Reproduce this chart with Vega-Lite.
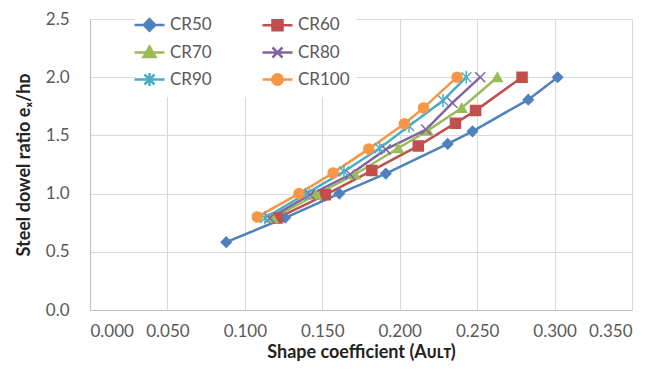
{
  "$schema": "https://vega.github.io/schema/vega-lite/v6.json",
  "width": 542,
  "height": 291,
  "autosize": {"type": "none"},
  "padding": {"left": 90, "top": 19, "right": 24, "bottom": 67},
  "background": "white",
  "config": {
    "font": "Lato",
    "view": {"stroke": null},
    "axis": {
      "gridColor": "#D9D9D9",
      "gridWidth": 1,
      "domainColor": "#BFBFBF",
      "domainWidth": 1,
      "ticks": false,
      "labelFont": "Lato",
      "labelFontSize": 17,
      "labelColor": "#595959",
      "titleFont": "Lato",
      "titleFontSize": 18,
      "titleFontWeight": "bold",
      "titleColor": "#222222"
    }
  },
  "data": {
    "values": [
      {"series": "CR50", "coef": 0.088, "ratio": 0.583},
      {"series": "CR50", "coef": 0.126, "ratio": 0.792},
      {"series": "CR50", "coef": 0.161, "ratio": 1.0},
      {"series": "CR50", "coef": 0.191, "ratio": 1.172},
      {"series": "CR50", "coef": 0.231, "ratio": 1.427},
      {"series": "CR50", "coef": 0.247, "ratio": 1.535},
      {"series": "CR50", "coef": 0.283, "ratio": 1.807},
      {"series": "CR50", "coef": 0.302, "ratio": 2.0},
      {"series": "CR60", "coef": 0.121, "ratio": 0.79},
      {"series": "CR60", "coef": 0.152, "ratio": 0.99},
      {"series": "CR60", "coef": 0.182, "ratio": 1.198},
      {"series": "CR60", "coef": 0.212, "ratio": 1.41},
      {"series": "CR60", "coef": 0.236, "ratio": 1.605},
      {"series": "CR60", "coef": 0.249, "ratio": 1.713},
      {"series": "CR60", "coef": 0.279, "ratio": 2.0},
      {"series": "CR70", "coef": 0.118, "ratio": 0.79},
      {"series": "CR70", "coef": 0.146, "ratio": 0.99},
      {"series": "CR70", "coef": 0.171, "ratio": 1.164},
      {"series": "CR70", "coef": 0.199, "ratio": 1.39},
      {"series": "CR70", "coef": 0.218, "ratio": 1.541},
      {"series": "CR70", "coef": 0.24, "ratio": 1.736},
      {"series": "CR70", "coef": 0.263, "ratio": 2.0},
      {"series": "CR80", "coef": 0.116, "ratio": 0.79},
      {"series": "CR80", "coef": 0.142, "ratio": 0.99},
      {"series": "CR80", "coef": 0.168, "ratio": 1.164},
      {"series": "CR80", "coef": 0.191, "ratio": 1.38},
      {"series": "CR80", "coef": 0.217, "ratio": 1.55},
      {"series": "CR80", "coef": 0.234, "ratio": 1.78},
      {"series": "CR80", "coef": 0.252, "ratio": 2.0},
      {"series": "CR90", "coef": 0.113, "ratio": 0.79},
      {"series": "CR90", "coef": 0.139, "ratio": 0.995},
      {"series": "CR90", "coef": 0.164, "ratio": 1.19},
      {"series": "CR90", "coef": 0.187, "ratio": 1.39},
      {"series": "CR90", "coef": 0.206, "ratio": 1.58},
      {"series": "CR90", "coef": 0.228, "ratio": 1.8},
      {"series": "CR90", "coef": 0.243, "ratio": 2.0},
      {"series": "CR100", "coef": 0.108, "ratio": 0.8},
      {"series": "CR100", "coef": 0.135, "ratio": 1.0},
      {"series": "CR100", "coef": 0.157, "ratio": 1.178},
      {"series": "CR100", "coef": 0.18, "ratio": 1.384},
      {"series": "CR100", "coef": 0.203, "ratio": 1.6},
      {"series": "CR100", "coef": 0.2154, "ratio": 1.736},
      {"series": "CR100", "coef": 0.237, "ratio": 2.0}
    ]
  },
  "encoding": {
    "x": {
      "field": "coef",
      "type": "quantitative",
      "scale": {"domain": [0, 0.35], "nice": false, "zero": true},
      "axis": {
        "values": [0, 0.05, 0.1, 0.15, 0.2, 0.25, 0.3, 0.35],
        "format": ".3f",
        "labelPadding": 13,
        "titlePadding": 4,
        "title": "Shape coefficient (Aᴜʟᴛ)"
      }
    },
    "y": {
      "field": "ratio",
      "type": "quantitative",
      "scale": {"domain": [0, 2.5], "nice": false},
      "axis": {
        "values": [0, 0.5, 1, 1.5, 2, 2.5],
        "format": ".1f",
        "labelPadding": 21,
        "titlePadding": 12,
        "title": "Steel dowel ratio eₓ/hᴅ"
      }
    }
  },
  "layer": [
    {
      "mark": {"type": "line", "strokeWidth": 2.5},
      "encoding": {
        "color": {
          "field": "series",
          "type": "nominal",
          "scale": {
            "domain": ["CR50", "CR60", "CR70", "CR80", "CR90", "CR100"],
            "range": ["#4F81BD", "#C0504D", "#9BBB59", "#8064A2", "#4BACC6", "#F79646"]
          }
        }
      }
    },
    {
      "mark": {"type": "point", "filled": true, "opacity": 1, "size": 100, "strokeWidth": 1.5},
      "encoding": {
        "color": {"field": "series", "type": "nominal"},
        "stroke": {
          "field": "series",
          "type": "nominal",
          "scale": {
            "domain": ["CR50", "CR60", "CR70", "CR80", "CR90", "CR100"],
            "range": ["#4F81BD", "#C0504D", "#9BBB59", "#8064A2", "#4BACC6", "#F79646"]
          }
        },
        "shape": {
          "condition": [
            {"test": "datum.series === 'CR50'", "value": "diamond"},
            {"test": "datum.series === 'CR60'", "value": "square"},
            {"test": "datum.series === 'CR70'", "value": "triangle-up"},
            {"test": "datum.series === 'CR80'", "value": "M-1,-1L1,1M1,-1L-1,1"},
            {"test": "datum.series === 'CR90'", "value": "M-1,-1L1,1M1,-1L-1,1M0,-1.3V1.3"}
          ],
          "value": "circle"
        }
      }
    },
    {
      "transform": [{"filter": "false"}],
      "mark": {"type": "point", "filled": true, "opacity": 1, "size": 100},
      "encoding": {
        "color": {
          "field": "series",
          "type": "nominal",
          "legend": {
            "title": null,
            "orient": "none",
            "legendX": 45,
            "legendY": -9,
            "direction": "horizontal",
            "columns": 2,
            "columnPadding": 45,
            "rowPadding": 5,
            "padding": 6,
            "fillColor": "white",
            "symbolSize": 100,
            "symbolStrokeWidth": 2.5,
            "labelFont": "Lato",
            "labelFontSize": 17,
            "labelColor": "#595959",
            "labelOffset": 12
          }
        },
        "stroke": {"field": "series", "type": "nominal", "legend": {"title": null}},
        "shape": {
          "field": "series",
          "type": "nominal",
          "scale": {
            "domain": ["CR50", "CR60", "CR70", "CR80", "CR90", "CR100"],
            "range": [
              "M-3,0H3M0,-1.15L1.15,0L0,1.15L-1.15,0Z",
              "M-3,0H3M-1,-1H1V1H-1Z",
              "M-3,0H3M0,-1.15L1.2,0.9L-1.2,0.9Z",
              "M-3,0H3M-1,-1L1,1M1,-1L-1,1",
              "M-3,0H3M-1,-1L1,1M1,-1L-1,1M0,-1.3V1.3",
              "M-3,0H3M1.05,0A1.05,1.05,0,1,1,-1.05,0A1.05,1.05,0,1,1,1.05,0Z"
            ]
          },
          "legend": {"title": null}
        }
      }
    }
  ]
}
